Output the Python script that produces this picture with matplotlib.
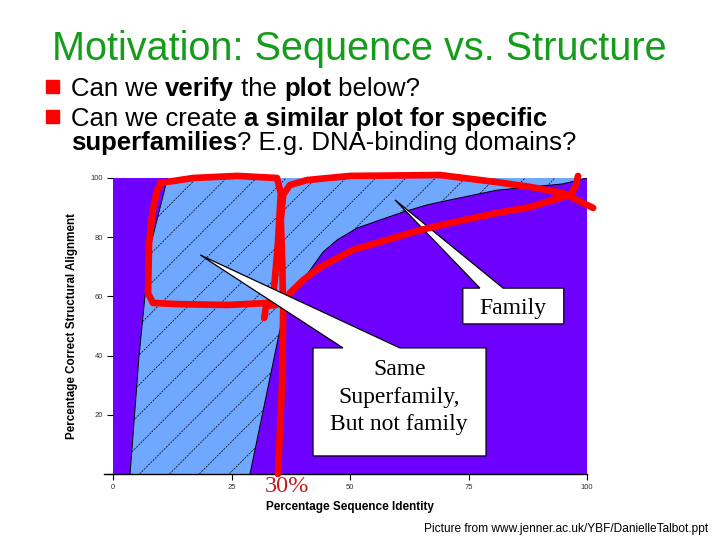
import numpy as np
import matplotlib
matplotlib.use("Agg")
import matplotlib.pyplot as plt
from matplotlib.patches import Polygon

# ---- data ----------------------------------------------------------------- #
# left and right edges of the "same superfamily" (light blue) band
band_left_x = [3.6, 5.5, 6.8, 8.2, 11.5]
band_left_y = [0, 40, 61, 79, 100]
band_right_x = [100, 94.9, 81.0, 71.1, 66.2, 61.2, 56.3, 51.5, 47.3, 44.3, 41.6, 37.3, 36.3, 35.2, 28.9]
band_right_y = [100, 98.0, 95.9, 92.6, 90.9, 88.5, 85.8, 83.1, 79.1, 75.0, 68.9, 59.8, 57.0, 48.6, 0]

x_ticks = [0, 25, 50, 75, 100]
y_ticks = [0, 20, 40, 60, 80, 100]
y_tick_labels = ["", "20", "40", "60", "80", "100"]

# hand-drawn red marks (data coords)
box_x = [9.9, 16.9, 26.2, 34.6, 35.4, 34.8, 34.0, 33.1, 24.1, 13.5, 8.4, 7.4, 7.6, 8.4, 9.3, 10.3]
box_y = [98.3, 100.0, 100.7, 100.0, 94.9, 78.0, 63.2, 57.8, 57.1, 57.4, 57.8, 61.1, 78.0, 89.2, 95.9, 98.3]
hook_x = [34.4, 32.3, 31.9]
hook_y = [57.1, 56.8, 52.7]
cut_x = [34.8, 35.2, 35.7, 35.9, 35.7, 35.4, 35.9, 37.3, 40.9, 50.0, 69.0, 81.0, 88.0, 94.9, 101.3]
cut_y = [0, 13.9, 31.8, 55.4, 72.3, 85.8, 94.3, 97.6, 99.3, 100.7, 101.0, 98.6, 97.0, 94.9, 89.9]
arc_x = [36.3, 37.3, 40.1, 43.7, 50.6, 57.8, 64.8, 71.1, 81.0, 88.0, 94.9, 96.8, 97.7, 98.1]
arc_y = [57.0, 61.1, 65.5, 69.9, 75.7, 79.1, 82.4, 84.8, 88.2, 90.2, 93.6, 94.9, 97.6, 100.7]

PURPLE = "#6e00ff"
BLUE = "#70a8ff"
RED = "#ff0000"

plt.rcParams["font.family"] = ["Liberation Sans", "DejaVu Sans"]

fig = plt.figure(figsize=(7.2, 5.4), dpi=100)
W, H = 720, 540
ax = fig.add_axes([113 / W, 1 - 474 / H, 474 / W, 296 / H])
ax.set_xlim(0, 100)
ax.set_ylim(0, 100)
ax.set_facecolor(PURPLE)

# light blue band
verts = list(zip(band_left_x, band_left_y)) + list(zip(band_right_x, band_right_y))
band = Polygon(verts, closed=True, facecolor=BLUE, edgecolor="none", zorder=1)
ax.add_patch(band)
ax.plot(band_left_x, band_left_y, color="black", lw=0.7, zorder=2)
ax.plot(band_right_x, band_right_y, color="black", lw=0.7, zorder=2)

# hatch: 45 degree (on screen) dashed lines clipped to the band
k = (474 / 296)
for c in np.arange(-70, 110, 6.3):
    ln, = ax.plot([c, c + 100 / k], [0, 100], color="black", lw=0.5,
                  ls=(0, (3, 1.5)), zorder=2)
    ln.set_clip_path(band)

# axes styling
for s in ("top", "right", "left"):
    ax.spines[s].set_visible(False)
ax.spines["bottom"].set_bounds(-2, 100)
ax.spines["bottom"].set_linewidth(1.0)
ax.set_xticks(x_ticks)
ax.set_xticklabels([str(v) for v in x_ticks])
ax.set_yticks(y_ticks)
ax.set_yticklabels(y_tick_labels)
ax.tick_params(length=4, width=0.8, labelsize=5.5, labelcolor="#333333", pad=3)
ax.set_ylabel("Percentage Correct Structural Alignment", fontsize=8.4, fontweight="bold")
ax.yaxis.set_label_coords(-35 / 474, 0.5)
ax.set_xlabel("Percentage Sequence Identity", fontsize=8.5, fontweight="bold")
ax.xaxis.set_label_coords(0.5, -33 / 296)
ax.xaxis.label.set_va("center")


def callout(x0, x1, y0, y1, xa, xb, tip, z):
    pts = [(x0, y0), (x1, y0), (x1, y1), (xb, y1), tip, (xa, y1), (x0, y1)]
    p = Polygon(pts, closed=True, facecolor="white", edgecolor="black",
                lw=0.9, zorder=z, clip_on=False)
    ax.add_patch(p)


callout(73.8, 95.1, 50.7, 62.8, 77.4, 82.3, (59.5, 92.6), 3)
ax.text(84.45, 56.0, "Family", family="Liberation Serif", fontsize=17,
        ha="center", va="center", zorder=6)
callout(42.2, 78.7, 6.1, 42.6, 48.5, 60.5, (18.4, 74.0), 5)
ax.text(60.4, 26.0, "Same\nSuperfamily,\nBut not family", family="Liberation Serif",
        fontsize=17, ha="center", va="center", linespacing=1.38, zorder=6)

# red hand-drawn marks
kw = dict(color=RED, lw=4.8, solid_capstyle="round", solid_joinstyle="round",
          clip_on=False, zorder=4)
ax.plot(box_x, box_y, **kw)
ax.plot(hook_x, hook_y, **kw)
ax.plot(cut_x, cut_y, **kw)
ax.plot(arc_x, arc_y, **kw)
ax.text(36.7, -4.3, "30%", family="Liberation Serif", fontsize=17.5, color="#c41a1e",
        ha="center", va="center", zorder=6, clip_on=False)

# slide text
fig.text(359 / W, 1 - 60 / H, "Motivation: Sequence vs. Structure", color="#169c1c",
         fontsize=28.5, ha="center", va="baseline")

renderer = fig.canvas.get_renderer()


def rich_line(x_px, y_px, parts, size=18.5):
    x = x_px
    for txt, weight in parts:
        t = fig.text(x / W, 1 - y_px / H, txt, fontsize=size, fontweight=weight,
                     ha="left", va="baseline", color="black")
        x += t.get_window_extent(renderer).width


for by in (80, 110):
    fig.patches.append(plt.Rectangle((46 / W, 1 - (by + 13) / H), 13 / W, 13 / H,
                                     transform=fig.transFigure, color=RED))

rich_line(71, 96, [("Can we ", "normal"), ("verify", "bold"), (" the ", "normal"),
                   ("plot", "bold"), (" below?", "normal")])
rich_line(71, 126, [("Can we create ", "normal"),
                    ("a similar plot for specific", "bold")])
rich_line(71, 150, [("superfamilies", "bold"), ("? E.g. DNA-binding domains?", "normal")])

fig.text(708 / W, 1 - 529 / H, "Picture from www.jenner.ac.uk/YBF/DanielleTalbot.ppt",
         fontsize=8.6, ha="right", va="center")

fig.savefig("out.png", dpi=100)
